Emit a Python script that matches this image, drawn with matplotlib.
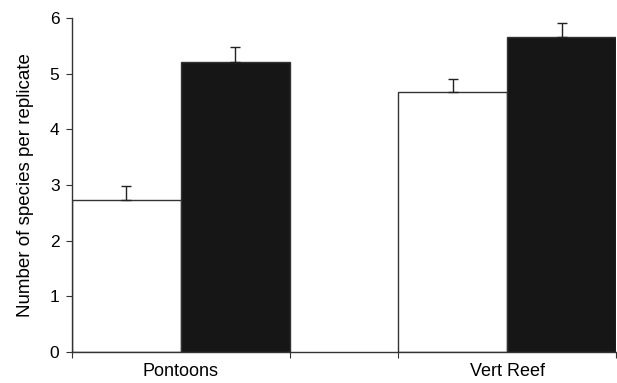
import matplotlib.pyplot as plt

plt.rcParams['font.family'] = ['Liberation Sans', 'DejaVu Sans']

sites = ['Pontoons', 'Vert Reef']
open_mean = [2.73, 4.68]
open_se = [0.26, 0.23]
filled_mean = [5.22, 5.67]
filled_se = [0.26, 0.25]

# two bars per site, one bar-width gap between the sites
left_pos = [0.5, 3.5]
right_pos = [1.5, 4.5]
centers = [1.0, 4.0]

fig = plt.figure(figsize=(6.17, 3.83), dpi=100)
ax = fig.add_axes([72 / 617, 31.3 / 383, 544 / 617, 333.4 / 383])

err_kw = dict(ecolor='#222222', elinewidth=1.0, capsize=3.6, capthick=1.0)
ax.bar(left_pos, open_mean, width=1.0, color='white', edgecolor='#333333',
       linewidth=1.0, yerr=[[0, 0], open_se], error_kw=err_kw)
ax.bar(right_pos, filled_mean, width=1.0, color='#161616', edgecolor='#333333',
       linewidth=1.0, yerr=[[0, 0], filled_se], error_kw=err_kw)

ax.set_xlim(0, 5)
ax.set_ylim(0, 6)
ax.set_yticks(range(7))
ax.set_xticks([0, 2, 3, 5])
ax.set_xticklabels([])
ax.set_xticks(centers, minor=True)
ax.set_xticklabels(sites, minor=True)
ax.tick_params(axis='x', which='minor', length=0, pad=8, labelsize=13)
ax.tick_params(axis='x', which='major', length=4, direction='out', color='#333333')
ax.tick_params(axis='y', length=4, direction='out', color='#333333', labelsize=12.5, pad=5)

for side in ['top', 'right']:
    ax.spines[side].set_visible(False)
for side in ['left', 'bottom']:
    ax.spines[side].set_color('#333333')
    ax.spines[side].set_linewidth(1.0)

ax.set_ylabel('Number of species per replicate', fontsize=13.5, labelpad=11)

fig.savefig('out.png', dpi=100)
